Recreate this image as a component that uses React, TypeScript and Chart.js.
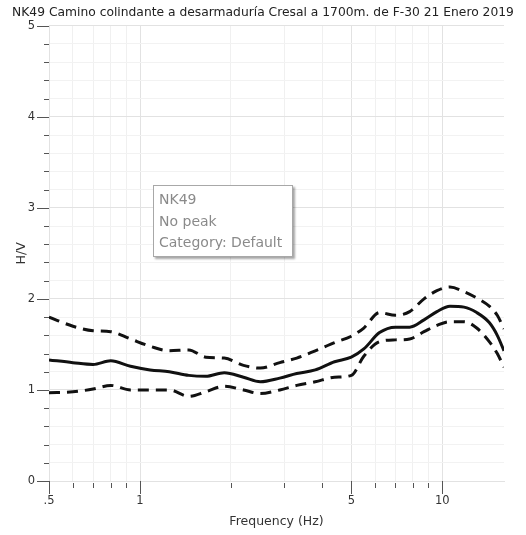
import React, { useEffect, useRef } from "react";
import { Chart, registerables } from "chart.js";

Chart.register(...registerables);

const titleText = "NK49 Camino colindante a desarmaduría Cresal a 1700m. de F-30 21 Enero 2019";
const xAxisTitle = "Frequency (Hz)";
const yAxisTitle = "H/V";
const legendLines = ["NK49", "No peak", "Category: Default"];

const frequencies = [0.5, 0.6, 0.7, 0.8, 0.93, 1.08, 1.25, 1.45, 1.65, 1.9, 2.2, 2.5, 2.9, 3.3, 3.8, 4.4, 5.0, 5.5, 6.2, 7.0, 7.8, 8.7, 9.6, 10.6, 11.8, 13.0, 14.3, 15.2, 16];
const meanHV = [1.33, 1.30, 1.28, 1.32, 1.26, 1.22, 1.20, 1.16, 1.15, 1.19, 1.14, 1.09, 1.13, 1.18, 1.22, 1.31, 1.36, 1.45, 1.63, 1.69, 1.69, 1.77, 1.86, 1.92, 1.91, 1.85, 1.74, 1.60, 1.43];
const upperHV = [1.80, 1.70, 1.65, 1.64, 1.56, 1.48, 1.43, 1.44, 1.36, 1.35, 1.27, 1.24, 1.30, 1.35, 1.43, 1.52, 1.59, 1.68, 1.85, 1.82, 1.86, 2.00, 2.09, 2.13, 2.08, 2.01, 1.92, 1.82, 1.67];
const lowerHV = [0.97, 0.98, 1.01, 1.05, 1.00, 1.00, 1.00, 0.93, 0.98, 1.04, 1.00, 0.96, 1.00, 1.05, 1.09, 1.14, 1.16, 1.37, 1.53, 1.55, 1.56, 1.64, 1.71, 1.75, 1.75, 1.68, 1.53, 1.40, 1.25];

const xTickValues = [0.5, 0.6, 0.7, 0.8, 0.9, 1, 2, 3, 4, 5, 6, 7, 8, 9, 10];
const xMajorTicks = [0.5, 1, 5, 10];
const xTickLabels: Record<string, string> = { "0.5": ".5", "1": "1", "5": "5", "10": "10" };
const xMin = 0.5;
const xMax = 16;
const yMin = 0;
const yMax = 5;
const yStep = 0.2;

const FONT = "'DejaVu Sans', sans-serif";

const tickMarksPlugin = {
  id: "tickMarks",
  afterDraw(chart: any) {
    const { ctx, chartArea } = chart;
    const xs = chart.scales.x;
    const ys = chart.scales.y;
    ctx.save();
    ctx.strokeStyle = "#555";
    ctx.lineWidth = 1;
    ctx.beginPath();
    for (let i = 0; i <= Math.round((yMax - yMin) / yStep); i++) {
      const v = yMin + i * yStep;
      const py = Math.round(ys.getPixelForValue(v)) + 0.5;
      const isMajor = Math.abs(v - Math.round(v)) < 1e-6;
      const len = isMajor ? 12 : 5;
      ctx.moveTo(chartArea.left - len, py);
      ctx.lineTo(chartArea.left, py);
    }
    for (const v of xTickValues) {
      const px = Math.round(xs.getPixelForValue(v)) + 0.5;
      const isMajor = xMajorTicks.includes(v);
      ctx.moveTo(px, chartArea.bottom + (isMajor ? 0 : 2));
      ctx.lineTo(px, chartArea.bottom + (isMajor ? 13 : 7));
    }
    ctx.stroke();
    ctx.restore();
  },
};

export default function App() {
  const canvasRef = useRef<HTMLCanvasElement | null>(null);

  useEffect(() => {
    if (!canvasRef.current) return;
    const mk = (arr: number[]) => frequencies.map((f, i) => ({ x: f, y: arr[i] }));
    const chart = new Chart(canvasRef.current, {
      type: "line",
      data: {
        datasets: [
          {
            label: "Upper",
            data: mk(upperHV),
            borderColor: "#111",
            borderWidth: 3,
            borderDash: [11, 7],
            pointRadius: 0,
            fill: false,
            cubicInterpolationMode: "monotone",
          },
          {
            label: "Mean",
            data: mk(meanHV),
            borderColor: "#111",
            borderWidth: 3,
            pointRadius: 0,
            fill: false,
            cubicInterpolationMode: "monotone",
          },
          {
            label: "Lower",
            data: mk(lowerHV),
            borderColor: "#111",
            borderWidth: 3,
            borderDash: [11, 7],
            pointRadius: 0,
            fill: false,
            cubicInterpolationMode: "monotone",
          },
        ],
      },
      options: {
        animation: false,
        responsive: true,
        maintainAspectRatio: false,
        layout: { padding: 0 },
        plugins: {
          legend: { display: false },
          tooltip: { enabled: false },
          title: {
            display: true,
            text: titleText,
            color: "#222",
            font: { family: FONT, size: 12.3, weight: "normal" },
            padding: { top: 5, bottom: 6 },
          },
        },
        scales: {
          x: {
            type: "logarithmic",
            min: xMin,
            max: xMax,
            afterBuildTicks: (scale: any) => {
              scale.ticks = xTickValues.map((v) => ({ value: v }));
            },
            afterFit: (scale: any) => {
              scale.height = 54;
            },
            ticks: {
              autoSkip: false,
              maxRotation: 0,
              padding: 13,
              color: "#333",
              font: { family: FONT, size: 11.5 },
              callback: (v: any) => xTickLabels[String(v)] ?? "",
            },
            grid: {
              drawTicks: false,
              color: (c: any) => (xMajorTicks.includes(c.tick?.value) ? "#e2e2e2" : "#f0f0f0"),
            },
            border: { color: "#e2e2e2" },
            title: {
              display: true,
              text: xAxisTitle,
              color: "#333",
              font: { family: FONT, size: 12.5 },
              padding: { top: 0, bottom: 6 },
            },
          },
          y: {
            type: "linear",
            position: "left",
            min: yMin,
            max: yMax,
            afterFit: (scale: any) => {
              scale.width = 49;
            },
            ticks: {
              stepSize: yStep,
              autoSkip: false,
              padding: 14,
              color: "#333",
              font: { family: FONT, size: 11.5 },
              callback: (v: any) => (Math.abs(v - Math.round(v)) < 1e-6 ? String(Math.round(v)) : ""),
            },
            grid: {
              drawTicks: false,
              color: (c: any) => {
                const v = c.tick?.value ?? 0;
                return Math.abs(v - Math.round(v)) < 1e-6 ? "#e2e2e2" : "#f2f2f2";
              },
            },
            border: { color: "#e2e2e2" },
            title: {
              display: true,
              text: yAxisTitle,
              color: "#333",
              font: { family: FONT, size: 12.5 },
              padding: { top: 14, bottom: 0 },
            },
          },
          yRight: {
            type: "linear",
            position: "right",
            display: true,
            afterFit: (scale: any) => {
              scale.width = 22;
            },
            ticks: { display: false },
            grid: { display: false, drawTicks: false },
            border: { display: false },
          },
        },
      },
      plugins: [tickMarksPlugin],
    } as any);
    return () => chart.destroy();
  }, []);

  return (
    <div style={{ position: "absolute", left: 0, top: 0, width: 526, height: 535, background: "#fff" }}>
      <canvas ref={canvasRef} />
      <div
        style={{
          position: "absolute",
          left: 153,
          top: 185,
          width: 140,
          height: 72,
          boxSizing: "border-box",
          border: "1px solid #a8a8a8",
          background: "#fff",
          boxShadow: "2px 2px 2px rgba(0,0,0,0.35)",
          padding: "3px 0 0 5px",
          color: "#8a8a8a",
          fontFamily: FONT,
          fontSize: 14,
          lineHeight: "21.5px",
          whiteSpace: "nowrap",
          zIndex: 2,
        }}
      >
        {legendLines.map((l) => (
          <div key={l}>{l}</div>
        ))}
      </div>
    </div>
  );
}
